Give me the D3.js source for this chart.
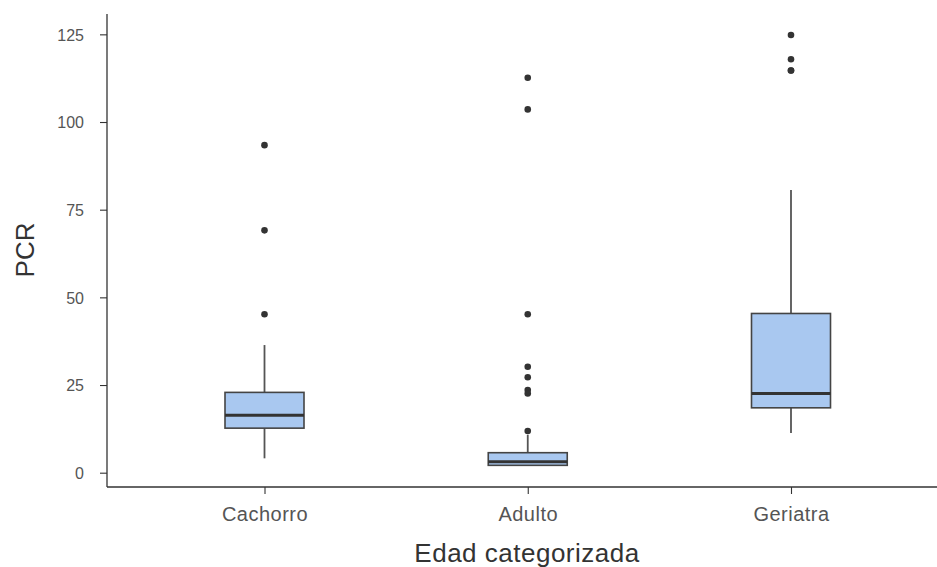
<!DOCTYPE html>
<html>
<head>
<meta charset="utf-8">
<script src="https://cdn.jsdelivr.net/npm/d3@7"></script>
<style>
  html, body { margin: 0; padding: 0; background: #ffffff; }
  svg text { font-family: "Liberation Sans", Arial, sans-serif; }
</style>
</head>
<body>
<svg id="chart" width="937" height="567"></svg>
<script>
// PCR by age group: box summaries and outlying observations
const categories = ["Cachorro", "Adulto", "Geriatra"];
const lowerWhisker = [4.1, 1.9, 11.3];
const q1 = [12.7, 2.1, 18.5];
const median = [16.4, 3.1, 22.6];
const q3 = [22.9, 5.7, 45.4];
const upperWhisker = [36.4, 10.8, 80.6];
const outliers = [
  [93.4, 69.1, 45.2],
  [112.6, 103.6, 45.2, 30.2, 27.2, 23.6, 22.6, 11.9],
  [124.8, 117.9, 114.7, 114.7]
];
const yTicks = [0, 25, 50, 75, 100, 125];

const boxes = categories.map((c, i) => ({
  cat: c, lo: lowerWhisker[i], q1: q1[i], med: median[i], q3: q3[i], hi: upperWhisker[i], out: outliers[i]
}));

const svg = d3.select("#chart");
const panel = { left: 107, right: 937, top: 14, bottom: 487 };

const x = d3.scalePoint().domain(categories).range([264.5, 791]);
const y = d3.scaleLinear().domain([-4.08, 130.8]).range([panel.bottom, panel.top]);
const boxW = 79;

// axes
const yAxis = svg.append("g").attr("transform", `translate(${panel.left},0)`)
  .call(d3.axisLeft(y).tickValues(yTicks).tickSize(7).tickPadding(16));
const xAxis = svg.append("g").attr("transform", `translate(0,${panel.bottom})`)
  .call(d3.axisBottom(x).tickSize(7).tickPadding(13));

[yAxis, xAxis].forEach(g => {
  g.select(".domain").remove();
  g.selectAll(".tick line").attr("stroke", "#333").attr("stroke-width", 1.1);
  g.selectAll(".tick text").attr("fill", "#555");
});
yAxis.selectAll(".tick text").style("font-size", "16px").attr("dy", "0.36em");
xAxis.selectAll(".tick text").style("font-size", "20px").style("letter-spacing", "0.5px");

svg.append("line").attr("x1", panel.left).attr("x2", panel.left).attr("y1", panel.top).attr("y2", panel.bottom)
  .attr("stroke", "#333").attr("stroke-width", 1.3);
svg.append("line").attr("x1", panel.left).attr("x2", panel.right).attr("y1", panel.bottom).attr("y2", panel.bottom)
  .attr("stroke", "#333").attr("stroke-width", 1.3);

// boxplots
const g = svg.append("g");
const bx = g.selectAll("g.box").data(boxes).join("g").attr("class", "box");

bx.append("line")
  .attr("x1", d => x(d.cat)).attr("x2", d => x(d.cat))
  .attr("y1", d => y(d.q3)).attr("y2", d => y(d.hi))
  .attr("stroke", "#555").attr("stroke-width", 1.8);
bx.append("line")
  .attr("x1", d => x(d.cat)).attr("x2", d => x(d.cat))
  .attr("y1", d => y(d.q1)).attr("y2", d => y(d.lo))
  .attr("stroke", "#555").attr("stroke-width", 1.8);
bx.append("rect")
  .attr("x", d => x(d.cat) - boxW / 2).attr("width", boxW)
  .attr("y", d => y(d.q3)).attr("height", d => y(d.q1) - y(d.q3))
  .attr("fill", "#a9c8f0").attr("stroke", "#444").attr("stroke-width", 1.6);
bx.append("line")
  .attr("x1", d => x(d.cat) - boxW / 2).attr("x2", d => x(d.cat) + boxW / 2)
  .attr("y1", d => y(d.med)).attr("y2", d => y(d.med))
  .attr("stroke", "#333").attr("stroke-width", 3);

bx.selectAll("circle").data(d => d.out.map(v => ({ cat: d.cat, v })))
  .join("circle")
  .attr("cx", d => x(d.cat)).attr("cy", d => y(d.v)).attr("r", 3.3)
  .attr("fill", "#333");

// axis titles
svg.append("text").attr("x", 527).attr("y", 562).attr("text-anchor", "middle")
  .attr("fill", "#333").style("font-size", "26px").style("letter-spacing", "0.5px")
  .text("Edad categorizada");
svg.append("text").attr("transform", "translate(34,250) rotate(-90)")
  .attr("text-anchor", "middle").attr("fill", "#333").style("font-size", "26px").text("PCR");
</script>
</body>
</html>
